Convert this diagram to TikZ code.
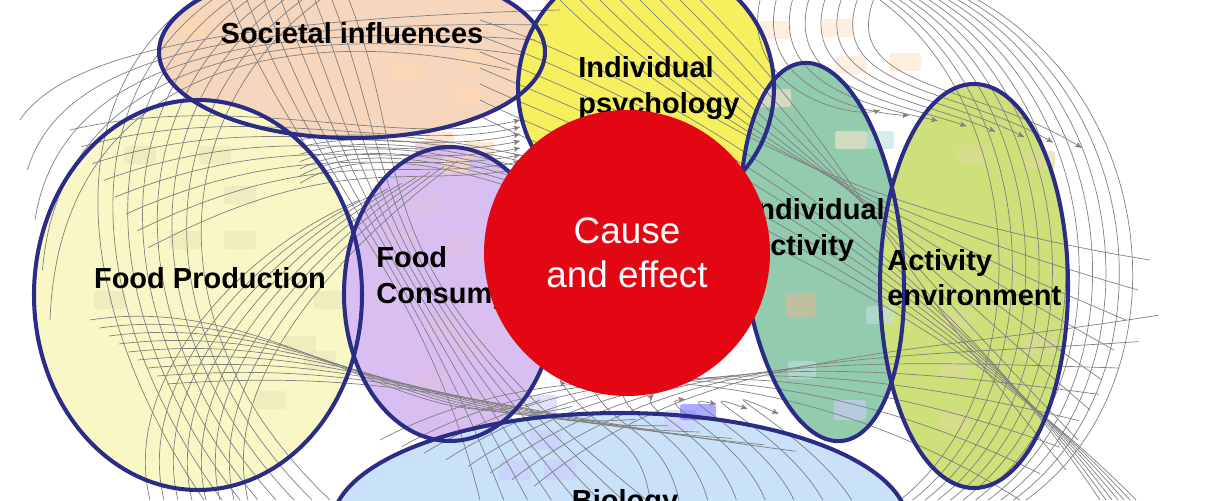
\documentclass[tikz,border=0pt]{standalone}
\usepackage{fontspec}
\setmainfont{Liberation Sans}
\usetikzlibrary{arrows}

\definecolor{zoneblue}{HTML}{2B2C86}
\definecolor{societal}{HTML}{F6D6BC}
\definecolor{psycho}{HTML}{F6EF5E}
\definecolor{production}{HTML}{FAF7C6}
\definecolor{consumption}{HTML}{D9BEF1}
\definecolor{activity}{HTML}{93CBAE}
\definecolor{environment}{HTML}{CEE07A}
\definecolor{biology}{HTML}{C9E1F9}
\definecolor{causered}{HTML}{E30613}

\begin{document}
\begin{tikzpicture}[x=0.02cm,y=-0.02cm,>=stealth',
  link/.style={draw=black!50,line width=0.4pt},
  zone/.style={draw=zoneblue,line width=2.3pt},
  zone label/.style={font=\fontsize{16.5}{20}\selectfont\bfseries,align=left,inner sep=0pt},
  factor/.style={fill=#1,rounded corners=1.5pt,opacity=0.6}]

\useasboundingbox (0,0) rectangle (1216,500);
\clip (0,0) rectangle (1216,500);

% zone fills
\fill[societal] (352,52) ellipse [x radius=193,y radius=86];
\fill[psycho] (646,88) ellipse [x radius=128,y radius=128];
\fill[production] (198,295) ellipse [x radius=164,y radius=195];
\fill[consumption] (450,294) ellipse [x radius=106,y radius=147];
\fill[biology] (620,525) ellipse [x radius=288,y radius=112];
\fill[activity,rotate around={6:(822,252)}] (822,252) ellipse [x radius=80,y radius=190];
\fill[environment] (974,286) ellipse [x radius=94,y radius=202];

% factor boxes
\foreach \x/\y in {195/25,405/70,440/140,470/95,480/150,470/60,455/165,295/45}
  \fill[factor=orange!30] (\x-14,\y-8) rectangle (\x+14,\y+8);
\foreach \x/\y in {140/155,215/155,240/195,185/240,240/240,110/300,300/345,270/400,320/360,330/300}
  \fill[factor=olive!20] (\x-16,\y-9) rectangle (\x+16,\y+9);
\foreach \x/\y in {425/205,400/235,460/245,440/325,430/380,470/345,430/150}
  \fill[factor=violet!25] (\x-15,\y-9) rectangle (\x+15,\y+9);
\foreach \x/\y in {541/405,560/470,680/420,850/410,515/470,545/440}
  \fill[factor=blue!20] (\x-16,\y-10) rectangle (\x+16,\y+10);
\foreach \x/\y in {775/30,838/28,851/65,905/62,851/140,775/98}
  \fill[factor=orange!20] (\x-16,\y-9) rectangle (\x+16,\y+9);
\foreach \x/\y in {801/305}
  \fill[factor=brown!55] (\x-15,\y-12) rectangle (\x+15,\y+12);
\foreach \x/\y in {802/370,880/140,880/315}
  \fill[factor=teal!25] (\x-14,\y-9) rectangle (\x+14,\y+9);
\foreach \x/\y in {972/155,1040/160,955/320,1040/345,955/370,955/420}
  \fill[factor=olive!30] (\x-15,\y-9) rectangle (\x+15,\y+9);
\fill[factor=blue!55] (680,404) rectangle (716,420);

% links
\foreach \d in {0,14,...,140}
  \draw[link] (880+\d*0.7,0) .. controls (1030+\d,110) and (1040+\d,390) .. (900+\d*0.9,500);
\foreach \d in {0,18,...,126}
  \draw[link] (320-\d,0) .. controls (170-\d,110) and (150-\d*0.5,330) .. (330-\d,500);
\foreach \d in {0,14,...,98}
  \draw[link,->] (70+\d*0.8,130+\d*1.2) .. controls (240+\d,90+\d*0.6) and (400,150+\d*0.4) .. (520,120+\d*0.5);
\foreach \d in {0,17,...,119}
  \draw[link] (230+\d,0) .. controls (300+\d,180) and (420-\d*0.6,260) .. (480+\d*1.4,500);
\foreach \d in {0,16,...,128}
  \draw[link] (90+\d*0.6,320+\d*0.5) .. controls (280+\d,290+\d*0.6) and (420+\d*0.5,450-\d*0.3) .. (540+\d*2,400+\d*0.4);
\foreach \d in {0,20,...,140}
  \draw[link] (560+\d,0) .. controls (700+\d,140) and (900-\d*0.3,220) .. (1150-\d*0.6,260+\d*1.5);
\foreach \d in {0,18,...,126}
  \draw[link,->] (760+\d*0.9,0) .. controls (740+\d*0.8,90) and (850+\d,120-\d*0.3) .. (880+\d*1.6,110+\d*0.3);
\foreach \d in {0,22,...,154}
  \draw[link] (380+\d,440+\d*0.3) .. controls (550+\d,350) and (800+\d*0.5,360) .. (1020+\d*0.9,500-\d*1.2);
\foreach \d in {0,24,...,168}
  \draw[link,->] (650+\d*1.2,500) .. controls (640+\d,430) and (600+\d*0.5,440-\d*0.4) .. (560+\d*1.3,380+\d*0.2);
\foreach \d in {0,20,...,120}
  \draw[link] (480,20+\d*0.8) .. controls (600,60+\d) and (900,200+\d*0.5) .. (1100+\d*0.3,500);
\foreach \d in {0,14,...,98}
  \draw[link] (150+\d,500) .. controls (120+\d,380) and (240+\d,250) .. (360+\d,200-\d*0.4);
\foreach \d in {0,18,...,108}
  \draw[link] (300,140+\d*0.4) .. controls (400,120) and (600,160+\d*0.5) .. (760,240+\d*0.6);
\foreach \d in {0,25,...,100}
  \draw[link] (20+\d*0.3,120+\d*2) .. controls (60,60) and (200+\d,20) .. (560-\d*0.5,10+\d*0.6);

% zone outlines
\draw[zone] (352,52) ellipse [x radius=193,y radius=86];
\draw[zone] (646,88) ellipse [x radius=128,y radius=128];
\draw[zone] (198,295) ellipse [x radius=164,y radius=195];
\draw[zone] (450,294) ellipse [x radius=106,y radius=147];
\draw[zone] (620,525) ellipse [x radius=288,y radius=112];
\draw[zone,rotate around={6:(822,252)}] (822,252) ellipse [x radius=80,y radius=190];
\draw[zone] (974,286) ellipse [x radius=94,y radius=202];

% zone labels
\node[zone label] (soc) at (352,33) {Societal influences};
\node[zone label,anchor=west] (psy) at (578,88) {Individual\\psychology};
\node[zone label] (prod) at (210,278) {Food Production};
\node[zone label,anchor=west] (cons) at (376,278) {Food\\Consumption};
\node[zone label,anchor=west] (act) at (749,230) {Individual\\Activity};
\node[zone label,anchor=west] (env) at (887,278) {Activity\\environment};
\node[zone label] (bio) at (625,503) {Biology};

% highlight
\node[circle,fill=causered,minimum size=5.72cm,inner sep=0pt,text=white,
  font=\fontsize{21}{25}\selectfont,align=center] (cause) at (627,253) {Cause\\and effect};
\end{tikzpicture}
\end{document}
